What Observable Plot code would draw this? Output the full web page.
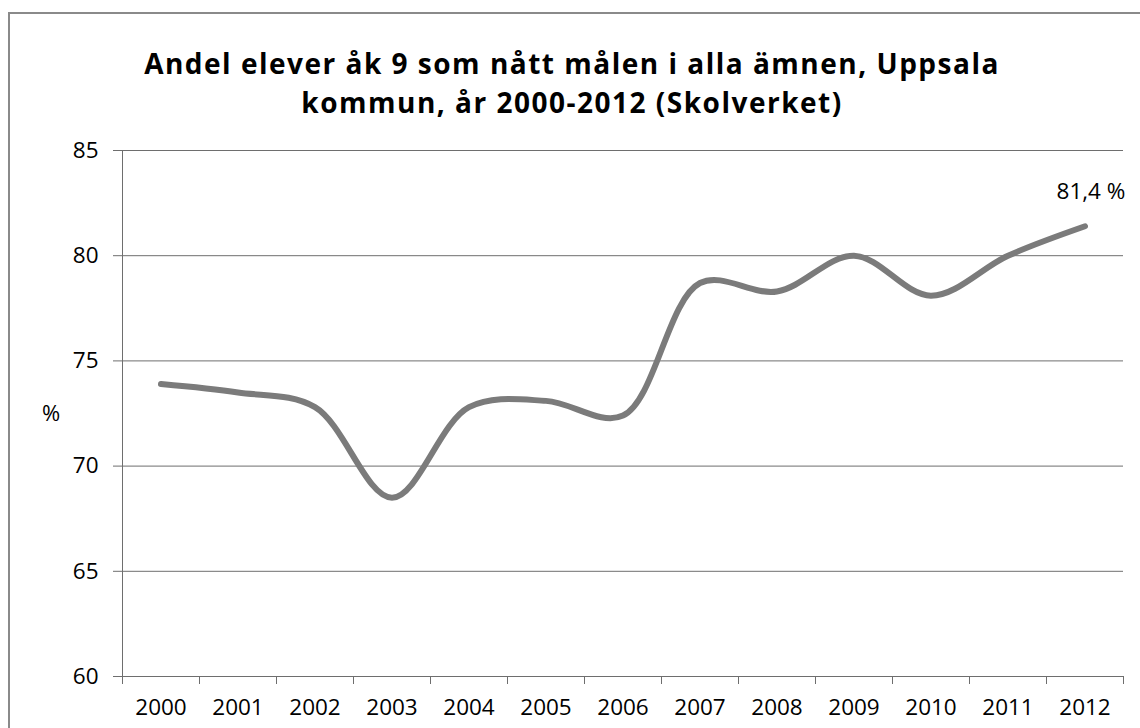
<!DOCTYPE html>
<html>
<head>
<meta charset="utf-8">
<script src="https://cdn.jsdelivr.net/npm/d3@7"></script>
<script src="https://cdn.jsdelivr.net/npm/@observablehq/plot@0.6"></script>
<style>
  html, body { margin: 0; padding: 0; background: #fff; }
  #wrap { position: relative; width: 1140px; height: 728px; overflow: hidden; background: #fff; }
  #frame { position: absolute; left: 8px; top: 12px; width: 1200px; height: 800px;
           border-left: 2px solid #8a8a8a; border-top: 2px solid #8a8a8a; }
  #title { position: absolute; left: 0; top: 44px; width: 1144px; text-align: center;
           font-family: "Open Sans", sans-serif; font-weight: bold; font-size: 28px;
           letter-spacing: 1.5px; line-height: 39px; color: #000; }
  #ylab { position: absolute; left: 42px; top: 397px; font-family: "Open Sans", sans-serif;
          font-size: 22px; color: #000; }
  #chart { position: absolute; left: 0; top: 130px; }
</style>
</head>
<body>
<div id="wrap">
  <div id="frame"></div>
  <div id="title">Andel elever åk 9 som nått målen i alla ämnen, Uppsala<br>kommun, år 2000-2012 (Skolverket)</div>
  <div id="ylab">%</div>
  <div id="chart"></div>
</div>
<script>
const years = [2000, 2001, 2002, 2003, 2004, 2005, 2006, 2007, 2008, 2009, 2010, 2011, 2012];
const values = [73.9, 73.5, 72.8, 68.5, 72.8, 73.1, 72.4, 78.7, 78.3, 80.0, 78.1, 80.0, 81.4];
const yTicks = [60, 65, 70, 75, 80, 85];
const lastLabel = "81,4 %";

const data = years.map((y, i) => ({year: y, value: values[i]}));
const boundaries = [years[0] - 0.5, ...years.map(y => y + 0.5)];

const chart = Plot.plot({
  width: 1140,
  height: 598,
  marginLeft: 122,
  marginRight: 17,
  marginTop: 20,
  marginBottom: 52,
  style: {fontFamily: "Open Sans, sans-serif", fontSize: "22.5px", color: "#000", background: "transparent"},
  x: {type: "linear", domain: [years[0] - 0.5, years[years.length - 1] + 0.5]},
  y: {domain: [60, 85]},
  marks: [
    Plot.gridY(yTicks, {stroke: "#6e6e6e", strokeOpacity: 1, strokeWidth: 1}),
    Plot.axisY(yTicks, {tickSize: 9, tickPadding: 15, label: null, stroke: "#6e6e6e"}),
    Plot.ruleX([boundaries[0]], {stroke: "#6e6e6e", strokeWidth: 1}),
    Plot.axisX(boundaries, {tickSize: 8, tickFormat: () => "", label: null, stroke: "#6e6e6e"}),
    Plot.axisX(years, {tickSize: 0, tickPadding: 23, tickFormat: d => String(d), label: null}),
    Plot.line(data, {x: "year", y: "value", curve: "catmull-rom", stroke: "#7b7b7b", strokeWidth: 6, strokeLinecap: "round"}),
    Plot.text(data.slice(-1), {x: "year", y: "value", text: () => lastLabel, dy: -34, dx: 6, fontSize: 22.5, fill: "#000"})
  ]
});
document.getElementById("chart").appendChild(chart);
</script>
</body>
</html>
